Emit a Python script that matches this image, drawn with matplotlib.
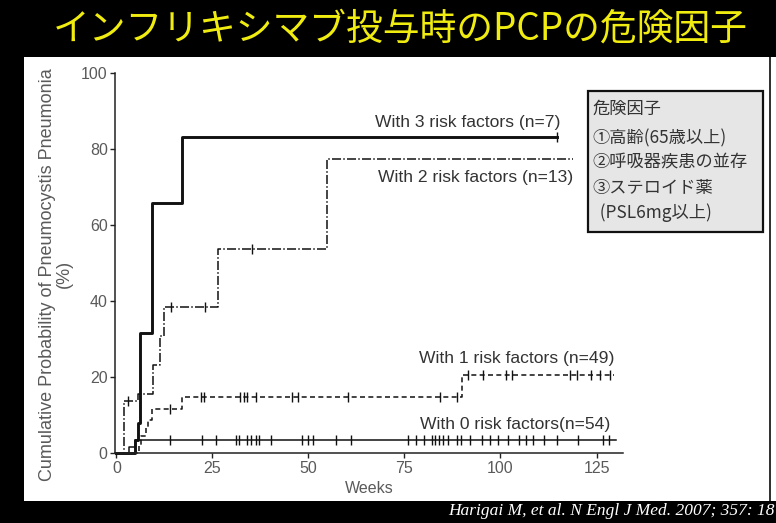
import numpy as np
import matplotlib
matplotlib.use("Agg")
import matplotlib.pyplot as plt
from matplotlib.patches import Rectangle

plt.rcParams['lines.scale_dashes'] = False
plt.rcParams['font.family'] = ['Liberation Sans', 'DejaVu Sans']

# ---------------- data (weeks, cumulative %) ----------------
three_times = [0, 4.8, 5.5, 6.2, 9.3, 17.0]
three_vals = [0, 3.4, 7.8, 31.5, 65.7, 83.1]
three_end = 114.6
three_censor = [114.6]

two_times = [0, 1.9, 5.7, 9.4, 11.3, 12.3, 26.5, 54.7]
two_vals = [0, 13.8, 15.4, 23.1, 30.8, 38.5, 53.8, 77.4]
two_end = 118.9
two_censor = [3.0, 14.3, 23.0, 35.2]

one_times = [0, 5.9, 6.3, 7.6, 8.3, 9.3, 17.0, 89.9]
one_vals = [0, 2.0, 4.5, 6.5, 8.6, 11.6, 14.8, 20.5]
one_end = 129.5
one_censor = [14.0, 22.0, 22.7, 32.3, 33.2, 34.0, 36.3, 45.7, 47.4, 60.3,
              84.2, 88.7, 91.5, 95.5, 101.5, 103.0, 118.0, 119.8, 123.5, 126.0, 128.5]

zero_times = [0, 3.2, 4.9]
zero_vals = [0, 1.6, 3.4]
zero_end = 130.0
zero_censor = [13.9, 22.2, 26.0, 31.2, 31.9, 33.9, 35.0, 36.3, 37.0, 40.2, 48.2, 50.0,
               51.2, 57.2, 61.1, 76.0, 78.0, 80.0, 82.2, 83.0, 84.0, 85.1, 86.4, 88.8,
               89.6, 92.0, 95.2, 97.3, 99.3, 102.0, 104.8, 106.6, 108.5, 111.2, 114.6,
               120.3, 126.7, 128.3]

x_ticks = [0, 25, 50, 75, 100, 125]
y_ticks = [0, 20, 40, 60, 80, 100]

series_labels = ["With 3 risk factors (n=7)", "With 2 risk factors (n=13)",
                 "With 1 risk factors (n=49)", "With 0 risk factors(n=54)"]
title = "インフリキシマブ投与時のPCPの危険因子"
box_lines = ["危険因子", "①高齢(65歳以上)", "②呼吸器疾患の並存", "③ステロイド薬", "  (PSL6mg以上)"]
citation = "Harigai M, et al. N Engl J Med. 2007; 357: 18"

# ---------------- figure ----------------
W, H = 776, 523
fig = plt.figure(figsize=(W / 100, H / 100), dpi=100, facecolor='black')


def fx(x):
    return x / W


def fy(y):
    return 1 - y / H


# white panel
fig.patches.append(Rectangle((fx(24), fy(501)), fx(776) - fx(24), fy(57) - fy(501),
                             transform=fig.transFigure, facecolor='white', edgecolor='none', zorder=-2))
fig.patches.append(Rectangle((fx(769), fy(501)), fx(2), fy(57) - fy(501),
                             transform=fig.transFigure, facecolor='#333333', edgecolor='none', zorder=-1))

ax = fig.add_axes([fx(115.3), fy(453), fx(623) - fx(115.3), fy(73) - fy(453)])
ax.set_zorder(1)
ax.set_facecolor('none')
ax.set_xlim(-0.3, 131.9)
ax.set_ylim(0, 100)

ink = '#111111'


def level(times, vals, t):
    i = np.searchsorted(times, t, side='right') - 1
    return vals[i]


def draw(times, vals, end, censor, **kw):
    xs = list(times) + [end]
    ys = list(vals) + [vals[-1]]
    ax.step(xs, ys, where='post', color=ink, clip_on=False, **kw)
    cy = [level(times, vals, t) for t in censor]
    ax.plot(censor, cy, linestyle='none', marker='|', markersize=6.5,
            markeredgewidth=1.0, color=ink, clip_on=False)


draw(zero_times, zero_vals, zero_end, zero_censor, linewidth=1.1)
draw(one_times, one_vals, one_end, one_censor, linewidth=1.1, linestyle=(0, (3.6, 2.4)))
draw(two_times, two_vals, two_end, two_censor, linewidth=1.1,
     linestyle=(0, (6.5, 1.6, 1.1, 1.6)))
draw(three_times, three_vals, three_end, three_censor, linewidth=2.1)

# curve labels
lab_col = '#333333'
lab_pos = [(115.5, 87.1), (118.9, 72.6), (129.8, 25.0), (128.5, 7.4)]
for (x, y), s in zip(lab_pos, series_labels):
    ax.text(x, y, s, ha='right', va='center', fontsize=12.6, color=lab_col)

# axes styling
for sp in ['top', 'right']:
    ax.spines[sp].set_visible(False)
for sp in ['left', 'bottom']:
    ax.spines[sp].set_color('#222222')
    ax.spines[sp].set_linewidth(1.1)
ax.set_xticks(x_ticks)
ax.set_yticks(y_ticks)
ax.tick_params(direction='out', length=3.5, width=1.0, color='#222222',
               labelcolor='#5a5a5a', labelsize=11.5, pad=2)
ax.set_xlabel("Weeks", fontsize=11.5, color='#5a5a5a', labelpad=4)
ax.set_ylabel("Cumulative Probability of Pneumocystis Pneumonia\n(%)",
              fontsize=13, color='#5a5a5a', linespacing=0.95)
ax.yaxis.set_label_coords(-0.084, 0.47)

# title
fig.text(fx(400), fy(29), title, ha='center', va='center', fontsize=26.5,
         color='#f0ec10', family=['Noto Sans CJK JP', 'DejaVu Sans'])

# risk-factor box
fig.patches.append(Rectangle((fx(588), fy(232)), fx(763) - fx(588), fy(91) - fy(232),
                             transform=fig.transFigure, facecolor='#e6e6e6',
                             edgecolor='#111111', linewidth=1.6, zorder=3))
ys_box = [109, 138, 162, 188, 213]
for yy, s in zip(ys_box, box_lines):
    fig.text(fx(592), fy(yy), s, ha='left', va='center', fontsize=12.4, color='#333333',
             family=['Noto Sans CJK JP', 'DejaVu Sans'], zorder=4)

# citation
fig.text(fx(448), fy(511), citation, ha='left', va='center', fontsize=12.5,
         color='white', family=['Liberation Serif'], style='italic')

fig.savefig('out.png', dpi=100, facecolor='black')
